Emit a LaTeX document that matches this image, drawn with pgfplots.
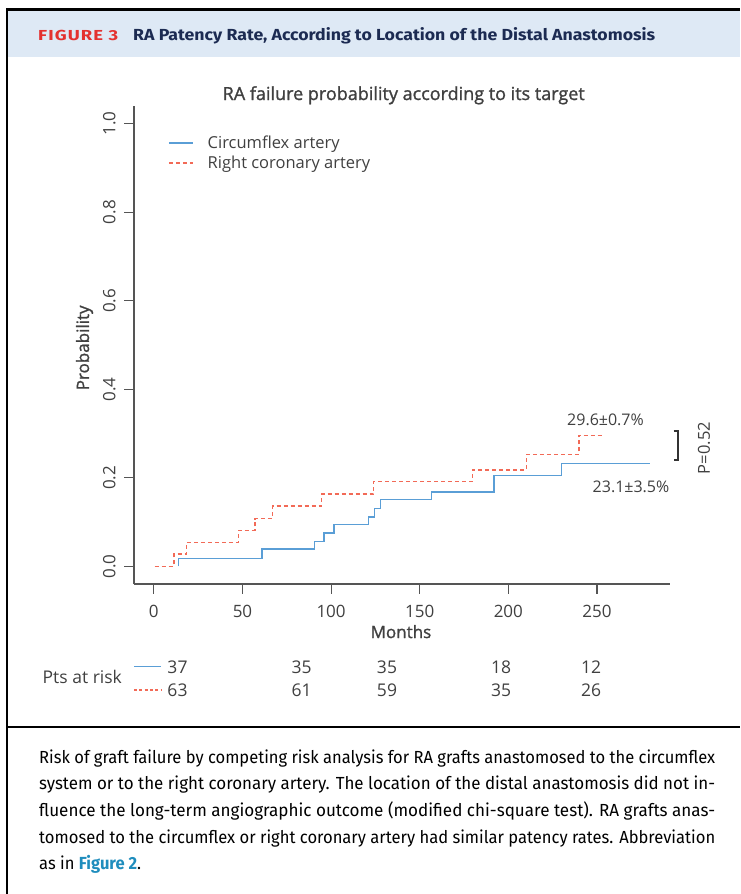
\documentclass[border=0pt]{standalone}
\usepackage{fontspec}
\usepackage{graphicx}
\usepackage{pgfplots}
\pgfplotsset{compat=1.18}
\setmainfont{Open Sans}
\newfontfamily\semib[FakeBold=1.3]{Open Sans}
\newfontfamily\capfont{Fira Sans}
\newfontfamily\figfont[LetterSpace=6]{Fira Sans}
\definecolor{hdrbg}{HTML}{DEE9F5}
\definecolor{hdrred}{HTML}{E4312F}
\definecolor{hdrnavy}{HTML}{1C2B52}
\definecolor{txt}{HTML}{404040}
\definecolor{axgray}{HTML}{555555}
\definecolor{cxblue}{HTML}{5A9ED6}
\definecolor{rcared}{HTML}{F26A57}
\definecolor{figlink}{HTML}{1F8DBD}
\newlength\capw
\begin{document}%
\settowidth\capw{\fontsize{17.5}{20}\capfont Risk of graft failure by competing risk analysis for RA grafts anastomosed to the circumflex}%
\pgfmathsetmacro\capsc{676/\capw}%
\begin{tikzpicture}
\useasboundingbox (0pt,0pt) rectangle (740pt,-894pt);
% header band and frame
\fill[hdrbg] (7pt,-10.5pt) rectangle (740pt,-57pt);
\draw[black, line width=2.3pt] (6.25pt,-9.5pt) -- (740pt,-9.5pt);
\draw[black, line width=1.5pt] (7pt,-9pt) -- (7pt,-894pt);
\draw[black, line width=2pt] (7pt,-727pt) -- (740pt,-727pt);
\node[anchor=base west, inner sep=0pt, text=hdrred] at (38pt,-40pt)
  {\resizebox{80pt}{\height}{\fontsize{14.5}{17}\figfont\bfseries FIGURE 3}};
\node[anchor=base west, inner sep=0pt, text=hdrnavy] at (133pt,-40pt)
  {\resizebox{522pt}{\height}{\fontsize{16}{19}\capfont\bfseries RA Patency Rate, According to Location of the Distal Anastomosis}};
% plot title
\node[anchor=base, inner sep=0pt, text=txt] at (403.7pt,-100pt)
  {\fontsize{18}{22}\semib RA failure probability according to its target};
\begin{axis}[
  at={(134pt,-584pt)}, anchor=south west,
  scale only axis, width=536pt, height=478pt,
  xmin=-11.2, xmax=291.2, ymin=-0.04, ymax=1.04,
  axis x line*=bottom, axis y line*=left,
  axis line style={axgray, line width=1.3pt},
  every tick/.style={axgray, line width=1.2pt},
  major tick length=9.5pt, tick align=outside,
  xtick={0,50,100,150,200,250},
  xticklabels={0,50,100,150,200,250},
  ytick={0,0.2,0.4,0.6,0.8,1.0},
  yticklabels={0.0,0.2,0.4,0.6,0.8,1.0},
  ticklabel style={font=\fontsize{17}{20}\selectfont, text=txt, inner sep=0pt},
  xticklabel style={anchor=base, yshift=-24pt},
  yticklabel style={rotate=90, anchor=base, yshift=9pt},
  xlabel={Months}, ylabel={Probability},
  every axis x label/.style={at={(rel axis cs:0.498,-0.113)}, anchor=base, font=\fontsize{17}{20}\semib, text=txt, inner sep=0pt},
  every axis y label/.style={at={(rel axis cs:-0.084,0.494)}, rotate=90, anchor=base, font=\fontsize{17}{20}\semib, text=txt, inner sep=0pt},
  legend style={at={(rel axis cs:0.0633,0.942)}, anchor=north west, draw=none, fill=none,
    font=\fontsize{16.5}{19}\selectfont, text=txt, inner sep=0pt, row sep=2pt, column sep=12pt},
  legend cell align=left,
  legend image code/.code={\draw[#1] (0pt,0pt) -- (24pt,0pt);},
  clip=false,
]
\addplot[const plot, cxblue, line width=1.6pt] coordinates {
(13.8,0) (13.8,0.018) (61,0.039) (90.7,0.056) (96,0.075) (101.6,0.094)
(121.2,0.112) (124.5,0.131) (127.9,0.151) (156.7,0.168) (191.9,0.205)
(229.9,0.232) (279.7,0.232)};
\addlegendentry{Circumflex artery}
\addplot[const plot, rcared, line width=1.4pt, dash pattern=on 4pt off 3pt] coordinates {
(0.5,0) (11.3,0.0275) (18.3,0.054) (47.6,0.0815) (57,0.108) (66.8,0.136)
(94.5,0.163) (123.8,0.191) (179.7,0.218) (210.2,0.253) (239.8,0.296) (253.4,0.296)};
\addlegendentry{Right coronary artery}
\end{axis}
% annotations
\node[anchor=base, inner sep=0pt, text=txt, font=\fontsize{16}{19}\selectfont] at (605.5pt,-425.5pt) {29.6±0.7\%};
\node[anchor=base, inner sep=0pt, text=txt, font=\fontsize{16}{19}\selectfont] at (631pt,-492.5pt) {23.1±3.5\%};
\draw[black!80, line width=1.5pt] (673.5pt,-431pt) -- (678pt,-431pt) -- (678pt,-460pt) -- (673.5pt,-460pt);
\node[rotate=90, inner sep=0pt, text=txt, font=\fontsize{16.5}{19}\selectfont] at (704pt,-448pt) {P=0.52};
% risk table
\node[anchor=base west, inner sep=0pt, text=txt, font=\fontsize{17.5}{20}\selectfont] at (42.5pt,-683pt) {Pts at risk};
\draw[cxblue, line width=1.3pt] (134pt,-666.5pt) -- (161pt,-666.5pt);
\draw[rcared, line width=1.3pt, dash pattern=on 3pt off 2.3pt] (134pt,-690pt) -- (161pt,-690pt);
\foreach \x/\a/\b in {177.5/37/63, 301.7/35/61, 387/35/59, 501/18/35, 591/12/26} {
  \node[anchor=base, inner sep=0pt, text=txt, font=\fontsize{17.5}{20}\selectfont] at (\x pt,-673pt) {\a};
  \node[anchor=base, inner sep=0pt, text=txt, font=\fontsize{17.5}{20}\selectfont] at (\x pt,-696.5pt) {\b};
}
% caption
\node[anchor=base west, inner sep=0pt] at (39pt,-763pt)
  {\resizebox{676pt}{\height}{\fontsize{17.5}{20}\capfont Risk of graft failure by competing risk analysis for RA grafts anastomosed to the circumflex}};
\node[anchor=base west, inner sep=0pt] at (39pt,-789.7pt)
  {\resizebox{676pt}{\height}{\fontsize{17.5}{20}\capfont system or to the right coronary artery. The location of the distal anastomosis did not in-}};
\node[anchor=base west, inner sep=0pt] at (39pt,-816.3pt)
  {\resizebox{676pt}{\height}{\fontsize{17.5}{20}\capfont fluence the long-term angiographic outcome (modified chi-square test). RA grafts anas-}};
\node[anchor=base west, inner sep=0pt] at (39pt,-843pt)
  {\resizebox{676pt}{\height}{\fontsize{17.5}{20}\capfont tomosed to the circumflex or right coronary artery had similar patency rates. Abbreviation}};
\node[anchor=base west, inner sep=0pt] at (39pt,-869.5pt)
  {\scalebox{\capsc}[1]{\fontsize{17.5}{20}\capfont as in {\bfseries\color{figlink}Figure 2}.}};
\end{tikzpicture}
\end{document}
